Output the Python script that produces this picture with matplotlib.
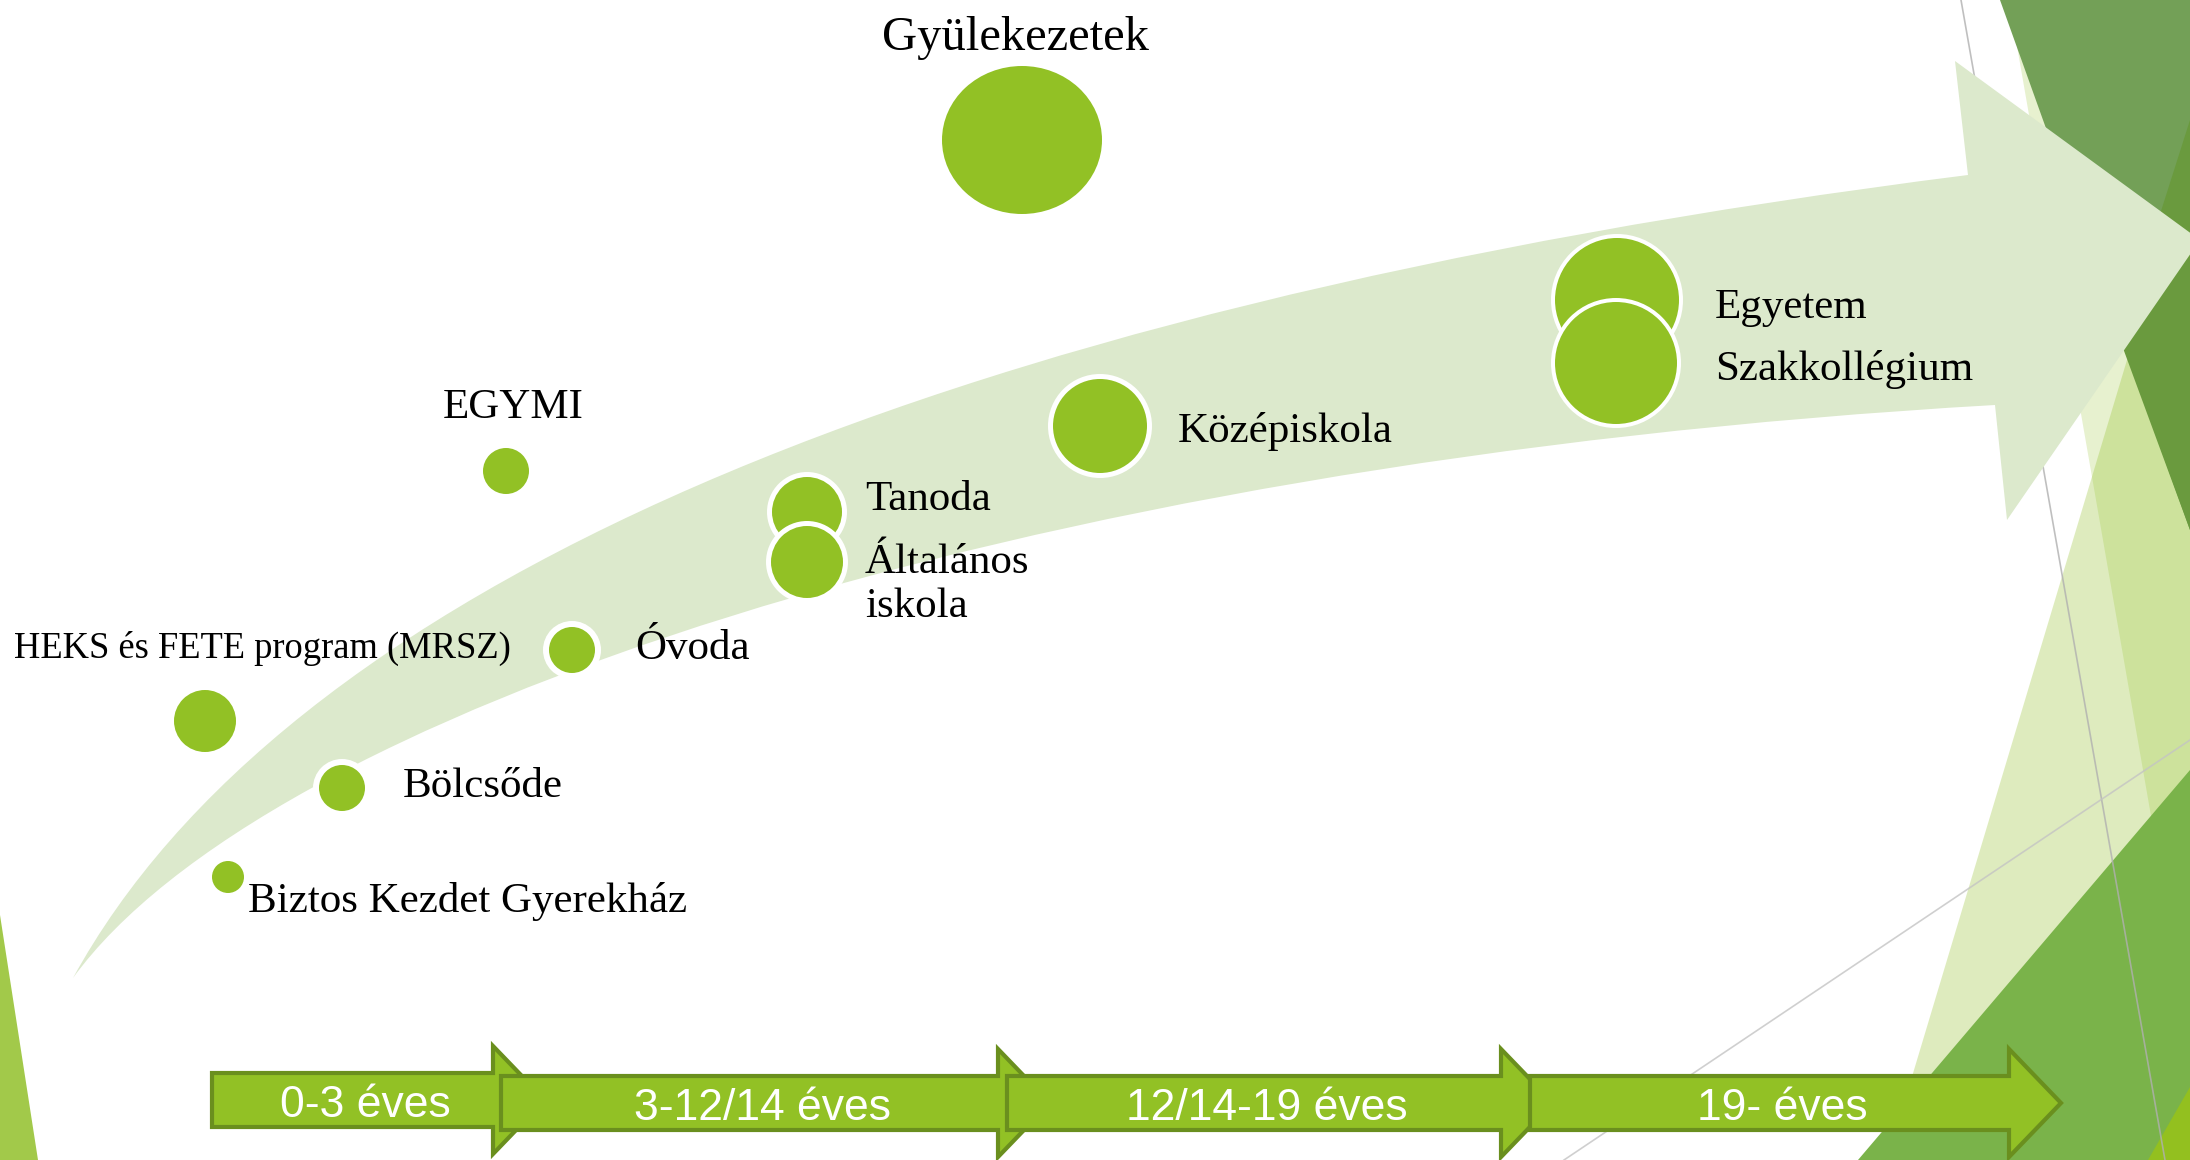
import numpy as np
import matplotlib
matplotlib.use("Agg")
import matplotlib.pyplot as plt
from matplotlib import font_manager
from matplotlib.path import Path
from matplotlib.patches import PathPatch, Polygon, Circle, Ellipse

# ---- nodes (pixel coordinates of the slide, y downwards) ----
node_names = ["Gyülekezetek", "EGYMI", "HEKS", "Óvoda", "Bölcsőde", "Biztos",
              "Tanoda", "Általános", "Középiskola", "Egyetem", "Szakkollégium"]
node_x = [1022, 506, 205, 572, 342, 228, 807, 807, 1100, 1617, 1616]
node_y = [140, 471, 721, 650, 788, 877, 512, 562, 426, 300, 363]
node_r = [77, 23, 31, 23, 23, 16, 35, 36, 47, 62, 61]
node_ring = [0, 0, 0, 6, 6, 3, 5, 5, 5, 4, 4]

# ---- labels ----
label_text = ["Gyülekezetek", "EGYMI", "HEKS és FETE program (MRSZ)", "Óvoda",
              "Bölcsőde", "Biztos Kezdet Gyerekház", "Tanoda", "Általános",
              "iskola", "Középiskola", "Egyetem", "Szakkollégium"]
label_x = [1015, 513, 14, 635, 403, 248, 865, 865, 865, 1178, 1715, 1715]
label_y = [50, 418, 658, 659, 797, 912, 510, 573, 617, 442, 318, 380]
label_ha = ["center", "center", "left", "left", "left", "left", "left", "left",
            "left", "left", "left", "left"]
label_size = [35, 31, 26.3, 31, 31, 31, 31, 31, 31, 31, 31, 31]

# ---- age stages (bottom arrows) ----
stage_labels = ["0-3 éves", "3-12/14 éves", "12/14-19 éves", "19- éves"]
stage_x0 = [212, 501, 1007, 1530]
stage_x1 = [493, 998, 1501, 2009]
stage_yc = [1100, 1103, 1103, 1103]

# ---- big curved arrow outline (cubic bezier edges + head) ----
upper_edge = [(73, 978), (280, 600), (900, 310), (1968, 175)]
lower_edge = [(73, 978), (260, 720), (1000, 462), (1995, 405)]
arrow_head = [(1955, 61), (2200, 240), (2007, 520)]

# ---- decorative facets ----
facet_dark = [(2000, 0), (2190, 0), (2190, 530)]
facet_darker = [(2190, 120), (2190, 530), (2120, 340)]
facet_pale = [(2009, 0), (2190, 0), (2190, 1040)]
facet_lime = [(1887, 1160), (2190, 150), (2190, 1160)]
facet_green = [(1858, 1160), (2190, 770), (2190, 1160)]
facet_corner = [(2148, 1160), (2190, 1087), (2190, 1160)]
facet_left = [(0, 915), (38, 1160), (0, 1160)]
line_a = [(1961, 0), (2165, 1160)]
line_b = [(1564, 1160), (2190, 740)]

GREEN = "#92C125"
BAND = "#DCE9CC"
EDGE = "#6A8F1E"

names = {f.name for f in font_manager.fontManager.ttflist}
box_font = "Liberation Sans Narrow" if "Liberation Sans Narrow" in names else "Liberation Sans"
serif = "Liberation Serif"

fig = plt.figure(figsize=(21.9, 11.6), dpi=100)
ax = fig.add_axes([0, 0, 1, 1])
ax.set_xlim(0, 2190)
ax.set_ylim(1160, 0)
ax.axis("off")

# background facets
ax.add_patch(Polygon(facet_pale, closed=True, fc="#92C028", alpha=0.22, ec="none", zorder=1))
ax.add_patch(Polygon(facet_lime, closed=True, fc="#92C028", alpha=0.30, ec="none", zorder=1.1))
ax.add_patch(Polygon(facet_dark, closed=True, fc="#73A057", ec="none", zorder=1.2))
ax.add_patch(Polygon(facet_darker, closed=True, fc="#6A9A3E", ec="none", zorder=1.3))
ax.add_patch(Polygon(facet_green, closed=True, fc="#7AB34A", ec="none", zorder=1.4))
ax.add_patch(Polygon(facet_corner, closed=True, fc="#93C01F", ec="none", zorder=1.5))
ax.add_patch(Polygon(facet_left, closed=True, fc="#A2C94A", ec="none", zorder=1.5))
for ln, col in [(line_a, "#B0B0B0"), (line_b, "#C4C4C4")]:
    ax.plot([ln[0][0], ln[1][0]], [ln[0][1], ln[1][1]], color=col, lw=1.2,
            alpha=0.8, zorder=2)

# curved arrow
verts = (upper_edge + arrow_head + lower_edge[::-1] + [upper_edge[0]])
codes = ([Path.MOVETO] + [Path.CURVE4] * 3 + [Path.LINETO] * (len(arrow_head) + 1)
         + [Path.CURVE4] * 3 + [Path.CLOSEPOLY])
ax.add_patch(PathPatch(Path(verts, codes), fc=BAND, ec="none", zorder=3))

# bubbles
for i in range(len(node_names)):
    x, y, r, ring = node_x[i], node_y[i], node_r[i], node_ring[i]
    if ring:
        ax.add_patch(Circle((x, y), r + ring, fc="white", ec="none", zorder=4 + i * 0.01))
    if node_names[i] == "Gyülekezetek":
        ax.add_patch(Ellipse((x, y), 2 * r + 6, 2 * r - 6, fc=GREEN, ec="none", zorder=4.5))
    else:
        ax.add_patch(Circle((x, y), r, fc=GREEN, ec="none", zorder=4.005 + i * 0.01))

# labels
for t, x, y, ha, s in zip(label_text, label_x, label_y, label_ha, label_size):
    ax.text(x, y, t, ha=ha, va="baseline", fontsize=s, family=serif,
            color="black", zorder=6)

# age arrows
hb, hh, hl = 27, 54, 52
for k, (lab, x0, x1, yc) in enumerate(zip(stage_labels, stage_x0, stage_x1, stage_yc)):
    shape = [(x0, yc - hb), (x1, yc - hb), (x1, yc - hh), (x1 + hl, yc),
             (x1, yc + hh), (x1, yc + hb), (x0, yc + hb)]
    ax.add_patch(Polygon(shape, closed=True, fc=GREEN, ec=EDGE, lw=3,
                         joinstyle="miter", zorder=7 + k))
    ax.text((x0 + x1 + hl / 2) / 2, yc + 17, lab, ha="center", va="baseline",
            fontsize=32, family=box_font, color="white", zorder=7.5 + k)

fig.savefig("out.png", dpi=100)
